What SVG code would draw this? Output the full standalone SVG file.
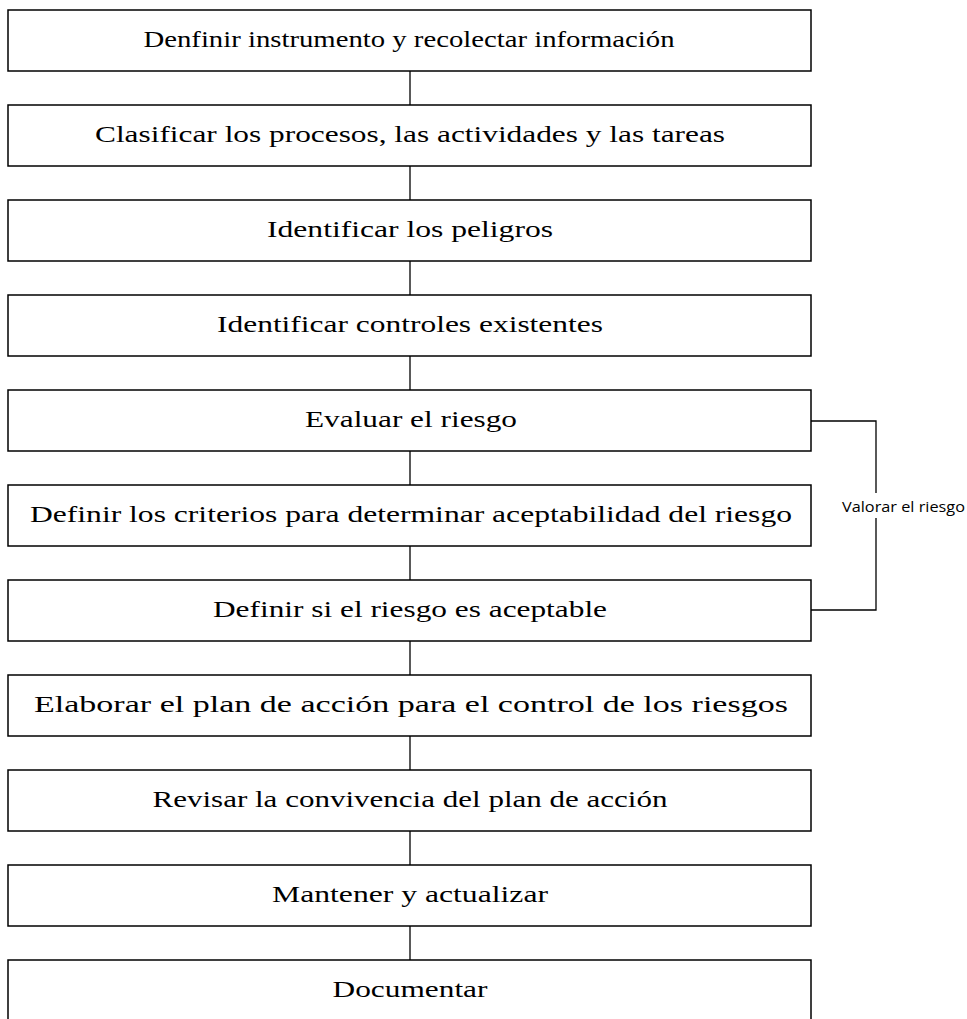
<svg xmlns="http://www.w3.org/2000/svg" width="967" height="1019" viewBox="0 0 967 1019">
<style>
.box{fill:#fff;stroke:#000;stroke-width:1.5}
.t{font-family:"Liberation Serif","Times New Roman",serif;font-size:22.5px;fill:#000;text-anchor:middle}
.c{fill:none;stroke:#000;stroke-width:1.3}
.lbl{font-family:"Open Sans","Liberation Sans",sans-serif;font-size:15px;fill:#000}
</style>
<rect width="967" height="1019" fill="#fff"/>
<g id="connectors">
<line class="c" x1="410" y1="71" x2="410" y2="105"/>
<line class="c" x1="410" y1="166" x2="410" y2="200"/>
<line class="c" x1="410" y1="261" x2="410" y2="295"/>
<line class="c" x1="410" y1="356" x2="410" y2="390"/>
<line class="c" x1="410" y1="451" x2="410" y2="485"/>
<line class="c" x1="410" y1="546" x2="410" y2="580"/>
<line class="c" x1="410" y1="641" x2="410" y2="675"/>
<line class="c" x1="410" y1="736" x2="410" y2="770"/>
<line class="c" x1="410" y1="831" x2="410" y2="865"/>
<line class="c" x1="410" y1="926" x2="410" y2="960"/>
<polyline class="c" points="811,421 876,421 876,493"/>
<polyline class="c" points="876,518 876,610 811,610"/>
<text class="lbl" x="842" y="512" textLength="123" lengthAdjust="spacingAndGlyphs">Valorar el riesgo</text>
</g>
<g id="n1"><rect class="box" x="8" y="10" width="803" height="61"/><text class="t" x="409" y="47" textLength="531" lengthAdjust="spacingAndGlyphs">Denfinir instrumento y recolectar información</text></g>
<g id="n2"><rect class="box" x="8" y="105" width="803" height="61"/><text class="t" x="410" y="142" textLength="630" lengthAdjust="spacingAndGlyphs">Clasificar los procesos, las actividades y las tareas</text></g>
<g id="n3"><rect class="box" x="8" y="200" width="803" height="61"/><text class="t" x="410" y="237" textLength="286" lengthAdjust="spacingAndGlyphs">Identificar los peligros</text></g>
<g id="n4"><rect class="box" x="8" y="295" width="803" height="61"/><text class="t" x="410" y="332" textLength="386" lengthAdjust="spacingAndGlyphs">Identificar controles existentes</text></g>
<g id="n5"><rect class="box" x="8" y="390" width="803" height="61"/><text class="t" x="411" y="427" textLength="212" lengthAdjust="spacingAndGlyphs">Evaluar el riesgo</text></g>
<g id="n6"><rect class="box" x="8" y="485" width="803" height="61"/><text class="t" x="411" y="522" textLength="762" lengthAdjust="spacingAndGlyphs">Definir los criterios para determinar aceptabilidad del riesgo</text></g>
<g id="n7"><rect class="box" x="8" y="580" width="803" height="61"/><text class="t" x="410" y="617" textLength="394" lengthAdjust="spacingAndGlyphs">Definir si el riesgo es aceptable</text></g>
<g id="n8"><rect class="box" x="8" y="675" width="803" height="61"/><text class="t" x="411" y="712" textLength="754" lengthAdjust="spacingAndGlyphs">Elaborar el plan de acción para el control de los riesgos</text></g>
<g id="n9"><rect class="box" x="8" y="770" width="803" height="61"/><text class="t" x="410" y="807" textLength="515" lengthAdjust="spacingAndGlyphs">Revisar la convivencia del plan de acción</text></g>
<g id="n10"><rect class="box" x="8" y="865" width="803" height="61"/><text class="t" x="410" y="902" textLength="276" lengthAdjust="spacingAndGlyphs">Mantener y actualizar</text></g>
<g id="n11"><rect class="box" x="8" y="960" width="803" height="61"/><text class="t" x="410" y="997" textLength="155" lengthAdjust="spacingAndGlyphs">Documentar</text></g>
</svg>
